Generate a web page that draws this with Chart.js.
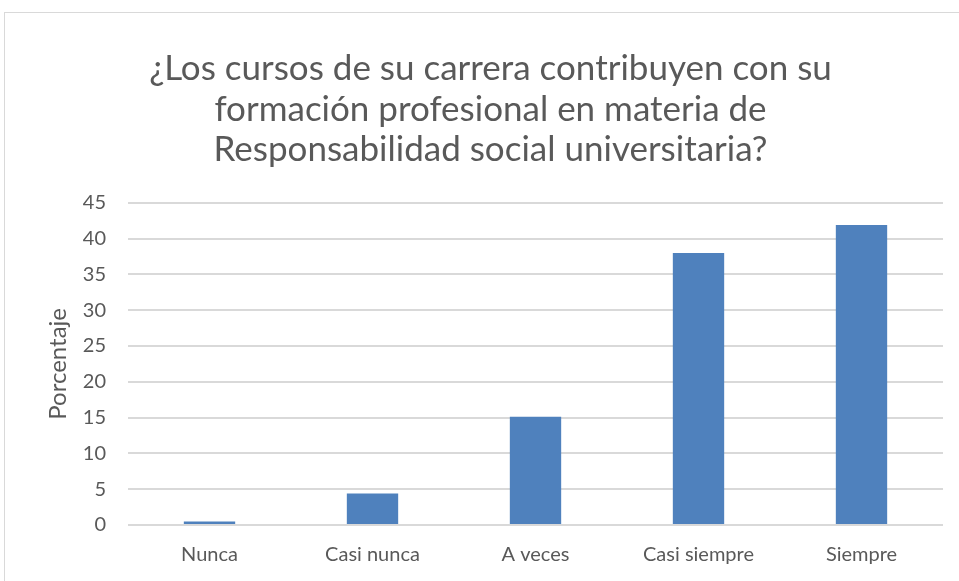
<!DOCTYPE html>
<html>
<head>
<meta charset="utf-8">
<script src="https://cdn.jsdelivr.net/npm/chart.js@4.4.0/dist/chart.umd.min.js"></script>
<style>
  html, body { margin: 0; padding: 0; background: #fff; overflow: hidden; }
  #frame { position: absolute; left: 4px; top: 12px; width: 1000px; height: 600px;
           border-left: 1px solid #d9d9d9; border-top: 1px solid #d9d9d9; }
  #wrap { position: absolute; left: 0; top: 0; width: 959px; height: 581px; }
</style>
</head>
<body>
<div id="frame"></div>
<div id="wrap"><canvas id="chart" width="959" height="581"></canvas></div>
<script>
// datos
const categorias = ["Nunca", "Casi nunca", "A veces", "Casi siempre", "Siempre"];
const porcentajes = [0.5, 4.4, 15.1, 38, 41.9];
const titulo = [
    "¿Los cursos de su carrera contribuyen con su",
    "formación profesional en materia de",
    "Responsabilidad social universitaria?"
];

const gris = '#595959';
const fuente = 'Lato, "Open Sans", sans-serif';

const ctx = document.getElementById('chart').getContext('2d');
const chart = new Chart(ctx, {
    type: 'bar',
    data: {
        labels: categorias,
        datasets: [{
            data: porcentajes,
            backgroundColor: '#4f81bd',
            borderWidth: 0,
            barPercentage: 0.63,
            categoryPercentage: 0.5
        }]
    },
    options: {
        responsive: false,
        animation: false,
        layout: { padding: { left: 38, right: 16, top: 0, bottom: 0 } },
        plugins: {
            legend: { display: false },
            tooltip: { enabled: false },
            title: {
                display: true,
                text: titulo,
                color: gris,
                font: { family: fuente, size: 35, weight: 'normal', lineHeight: 1.15 },
                padding: { top: 49, bottom: 33 }
            }
        },
        scales: {
            x: {
                afterFit: function(scale) { scale.height = 56; },
                grid: { display: false, drawTicks: false },
                border: { display: false },
                ticks: { color: gris, font: { family: fuente, size: 20 }, padding: 18, maxRotation: 0 }
            },
            y: {
                min: 0,
                max: 45,
                afterFit: function(scale) { scale.width = 90; },
                ticks: { stepSize: 5, color: gris, font: { family: fuente, size: 20 }, padding: 22 },
                grid: { color: '#d9d9d9', lineWidth: 2, drawTicks: false },
                border: { display: false },
                title: {
                    display: true,
                    text: 'Porcentaje',
                    color: gris,
                    font: { family: fuente, size: 24 },
                    padding: { top: 6, bottom: 0 }
                }
            }
        }
    }
});
</script>
</body>
</html>
